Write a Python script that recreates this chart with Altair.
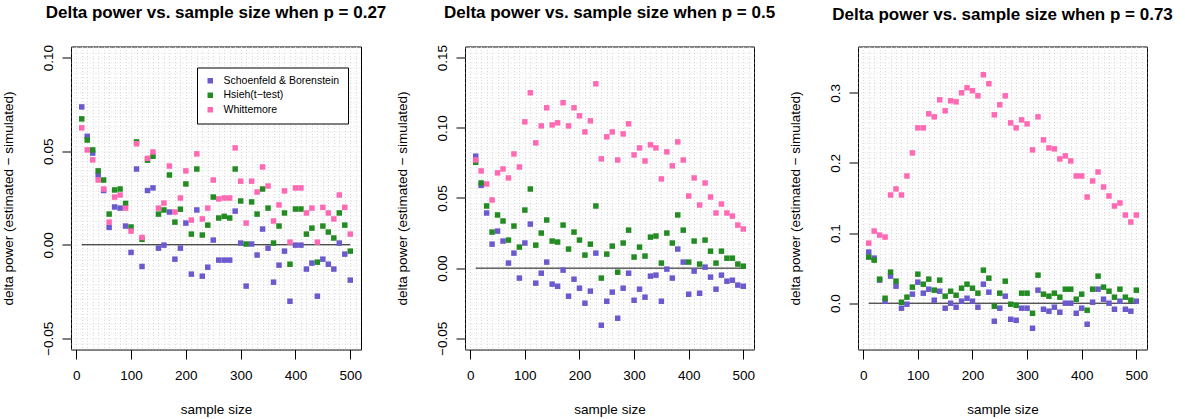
import altair as alt
import numpy as np
import pandas as pd

FONT = "Liberation Sans"

sample_size = list(range(10, 501, 10))
methods = ["Schoenfeld & Borenstein", "Hsieh(t−test)", "Whittemore"]
colors = ["#6A5ACD", "#228B22", "#FF69B4"]
p_labels = ["0.27", "0.5", "0.73"]

# ---- p = 0.27 ----
p027_schoenfeld = [0.0737, 0.058, 0.049, 0.0373, 0.029, 0.0093, 0.0202, 0.0196, 0.010, -0.0041,
                   0.0405, -0.0116, 0.029, 0.0304, -0.0018, -0.0002, 0.0175, -0.0077, -0.0018, 0.0116,
                   -0.0157, 0.0186, -0.0168, -0.012, 0.0025, -0.0082, -0.0082, -0.0082, 0.018, 0.0009,
                   -0.0221, 0.0004, -0.0055, 0.0084, -0.0018, -0.02, -0.0109, -0.0034, -0.0302, -0.0002,
                   -0.0002, -0.013, -0.0098, -0.0275, -0.0077, -0.0104, -0.013, 0.0009, -0.005, -0.0189]
p027_hsieh = [0.0673, 0.056, 0.0507, 0.0395, 0.0346, 0.0164, 0.0293, 0.0298, 0.0221, 0.0095,
              0.055, 0.0029, 0.0452, 0.0473, 0.0164, 0.0186, 0.0373, 0.0121, 0.019, 0.0325,
              0.0057, 0.0405, 0.0052, 0.0105, 0.0255, 0.0143, 0.0152, 0.0143, 0.0405, 0.0234,
              0.0004, 0.0229, 0.0164, 0.0298, 0.0196, 0.0009, 0.010, 0.017, -0.0104, 0.0191,
              0.0191, 0.0057, 0.0089, -0.0093, 0.010, 0.0068, 0.0036, 0.017, 0.0105, -0.0034]
p027_whittemore = [0.0625, 0.0507, 0.0454, 0.0346, 0.0298, 0.0121, 0.0255, 0.0266, 0.0196, 0.0073,
                   0.054, 0.0039, 0.0462, 0.0496, 0.0196, 0.0223, 0.0421, 0.0175, 0.025, 0.0395,
                   0.0132, 0.0486, 0.0138, 0.0196, 0.0346, 0.0245, 0.025, 0.025, 0.0518, 0.034,
                   0.0116, 0.034, 0.0282, 0.0416, 0.0314, 0.0127, 0.0213, 0.0288, 0.0014, 0.0304,
                   0.0304, 0.017, 0.0196, 0.0014, 0.020, 0.017, 0.0138, 0.0266, 0.020, 0.0057]

# ---- p = 0.5 ----
p05_schoenfeld = [0.0798, 0.059, 0.0393, 0.0171, 0.0264, 0.0193, 0.0036, 0.0107, -0.0071, 0.0179,
                  0.0314, -0.0107, -0.0036, 0.0043, -0.0114, -0.0129, -0.0014, -0.02, -0.0079, -0.0143,
                  -0.025, -0.0164, 0.0107, -0.0407, -0.0236, -0.0171, -0.0357, -0.0143, -0.0036, -0.0229,
                  -0.015, -0.0207, -0.0057, -0.005, -0.0236, -0.0007, -0.0071, 0.0136, 0.0043, -0.0186,
                  -0.0021, -0.0179, 0.0007, -0.0064, -0.015, -0.005, -0.0093, -0.0086, -0.0121, -0.0129]
p05_hsieh = [0.0755, 0.0607, 0.0443, 0.0257, 0.0379, 0.0336, 0.020, 0.030, 0.015, 0.0414,
             0.0564, 0.0164, 0.025, 0.0343, 0.0193, 0.0186, 0.0307, 0.0136, 0.0257, 0.020,
             0.0093, 0.0171, 0.0443, -0.0071, 0.010, 0.0157, -0.0029, 0.0179, 0.0271, 0.0079,
             0.015, 0.0086, 0.0221, 0.0229, 0.0036, 0.025, 0.0179, 0.0379, 0.0271, 0.0043,
             0.0193, 0.0029, 0.020, 0.0121, 0.0036, 0.0121, 0.0071, 0.0071, 0.0029, 0.0014]
p05_whittemore = [0.0771, 0.0693, 0.060, 0.0486, 0.0679, 0.0707, 0.0643, 0.0814, 0.0721, 0.1043,
                  0.125, 0.0893, 0.1014, 0.1143, 0.1021, 0.1036, 0.1179, 0.1014, 0.1143, 0.1086,
                  0.0971, 0.105, 0.1314, 0.0779, 0.0936, 0.0971, 0.0771, 0.0957, 0.1029, 0.0807,
                  0.0857, 0.0764, 0.0879, 0.0857, 0.0636, 0.0829, 0.0729, 0.090, 0.0771, 0.0514,
                  0.0643, 0.045, 0.0607, 0.0507, 0.0393, 0.0457, 0.0393, 0.0371, 0.0307, 0.0279]

# ---- p = 0.73 ----
p073_schoenfeld = [0.0729, 0.0643, 0.0329, 0.0029, 0.0386, 0.0243, -0.0071, -0.0014, 0.0129, 0.030,
                   0.0143, 0.020, 0.0043, 0.0171, -0.0071, 0.0, -0.0057, 0.0029, 0.0071, 0.0029,
                   -0.0057, 0.0271, 0.0157, -0.0257, -0.0071, 0.010, -0.0229, -0.0243, -0.0071, -0.0071,
                   -0.0357, 0.0186, -0.0086, -0.0114, -0.0057, -0.0129, 0.0, 0.0, -0.0143, -0.0071,
                   -0.030, 0.0014, 0.020, 0.0057, 0.0, -0.0086, 0.0029, -0.0086, -0.0114, 0.0029]
p073_hsieh = [0.0657, 0.0614, 0.0343, 0.0071, 0.0443, 0.0314, 0.0014, 0.0086, 0.0229, 0.0414,
              0.0271, 0.0343, 0.0186, 0.0329, 0.010, 0.0171, 0.0114, 0.0214, 0.0271, 0.0214,
              0.0143, 0.0471, 0.0357, -0.0043, 0.0143, 0.0314, -0.0014, -0.0029, 0.0143, 0.0143,
              -0.0143, 0.040, 0.0129, 0.010, 0.0143, 0.0086, 0.020, 0.020, 0.0057, 0.0129,
              -0.010, 0.020, 0.0386, 0.0229, 0.0171, 0.0086, 0.020, 0.0086, 0.0043, 0.0186]
p073_whittemore = [0.0857, 0.1029, 0.0971, 0.0943, 0.1543, 0.1629, 0.1543, 0.1814, 0.2143, 0.250,
                   0.250, 0.270, 0.2657, 0.290, 0.2743, 0.2886, 0.2871, 0.300, 0.3071, 0.3029,
                   0.2957, 0.3257, 0.3129, 0.2686, 0.2829, 0.2957, 0.2571, 0.250, 0.2614, 0.2557,
                   0.2186, 0.2657, 0.2329, 0.2214, 0.220, 0.2057, 0.210, 0.2029, 0.1814, 0.1814,
                   0.1514, 0.1743, 0.1871, 0.1657, 0.1529, 0.1386, 0.1429, 0.1257, 0.1157, 0.1257]

# axis set-up per panel: y limits (R style, extended by 4%), major ticks
y_limits = [(-0.05, 0.10), (-0.05, 0.15), (-0.05, 0.35)]
y_major_step = [0.05, 0.05, 0.1]
y_grid_div = [19, 14, 14]
y_format = [".2f", ".2f", ".1f"]
x_limits = (min(sample_size), max(sample_size))

PLOT_H = 303
widths = [290, 289, 289]
GRID_COLOR = "#dadada"


def ext(lo, hi):
    r = hi - lo
    return [lo - 0.04 * r, hi + 0.04 * r]


def panel(i, series, show_legend):
    rows = []
    for m, vals in zip(methods, series):
        for n, v in zip(sample_size, vals):
            rows.append({"n": n, "delta": v, "method": m})
    df = pd.DataFrame(rows)

    xdom = ext(*x_limits)
    ydom = ext(*y_limits[i])

    xgrid = list(range(0, 520, 10))
    step = y_major_step[i] / y_grid_div[i]
    k0 = int(np.ceil(ydom[0] / step))
    k1 = int(np.floor(ydom[1] / step))
    ygrid = [round(k * step, 8) for k in range(k0, k1 + 1)]

    ms = y_major_step[i]
    ytest = f"abs(datum.value / {ms} - round(datum.value / {ms})) < 1e-6"
    xtest = "datum.value % 100 === 0"

    x_axis = alt.Axis(
        values=xgrid, format="d",
        labelExpr=f"({xtest}) ? datum.label : ''",
        tickOpacity={"condition": {"test": xtest, "value": 1}, "value": 0},
        tickSize=9.5, tickColor="black", tickWidth=1,
        labelPadding=20.5, labelBaseline="alphabetic", labelAlign="center",
        labelFont=FONT, labelFontSize=13.5, labelColor="black",
        labelOverlap=False, labelFlush=False,
        domain=False,
        grid=True, gridColor=GRID_COLOR, gridDash=[1, 2], gridWidth=1,
        title="sample size", titleFont=FONT, titleFontSize=13.5, titleFontWeight="normal",
        titleColor="black", titleBaseline="alphabetic", titleAlign="center",
        titleX=widths[i] / 2, titleY=64,
    )
    y_axis = alt.Axis(
        values=ygrid, format=y_format[i],
        labelExpr=f"({ytest}) ? datum.label : ''",
        tickOpacity={"condition": {"test": ytest, "value": 1}, "value": 0},
        tickSize=9, tickColor="black", tickWidth=1,
        labelAngle=270, labelAlign="center", labelBaseline="alphabetic", labelPadding=9.5,
        labelFont=FONT, labelFontSize=13.5, labelColor="black",
        labelOverlap=False, labelFlush=False,
        domain=False,
        grid=True, gridColor=GRID_COLOR, gridDash=[1, 2], gridWidth=1,
        title="delta power (estimated − simulated)", titleFont=FONT, titleFontSize=13.5,
        titleFontWeight="normal", titleColor="black", titleAngle=270,
        titleAlign="center", titleBaseline="alphabetic",
        titleX=-58.7, titleY=PLOT_H / 2,
    )

    if show_legend:
        legend = alt.Legend(
            title=None, orient="none", legendX=126, legendY=21,
            strokeColor="black", fillColor="white", padding=8,
            symbolType="square", symbolSize=30, symbolStrokeWidth=0,
            labelFont=FONT, labelFontSize=10.5, labelColor="black",
            labelOffset=8, rowPadding=3.5, labelLimit=300,
        )
    else:
        legend = None

    zero = pd.DataFrame({"x": [x_limits[0]], "x2": [x_limits[1]], "y": [0.0]})
    zero_line = alt.Chart(zero).mark_rule(color="#111111", strokeWidth=1).encode(
        x=alt.X("x:Q", scale=alt.Scale(domain=xdom, nice=False, zero=False), axis=x_axis),
        x2="x2:Q",
        y=alt.Y("y:Q", scale=alt.Scale(domain=ydom, nice=False, zero=False), axis=y_axis),
    )

    pts = alt.Chart(df).mark_square(size=30, opacity=1).encode(
        x=alt.X("n:Q", scale=alt.Scale(domain=xdom, nice=False, zero=False), axis=x_axis),
        y=alt.Y("delta:Q", scale=alt.Scale(domain=ydom, nice=False, zero=False), axis=y_axis),
        color=alt.Color("method:N", scale=alt.Scale(domain=methods, range=colors),
                        sort=methods, legend=legend),
    )

    title = alt.TitleParams(
        text=f"Delta power vs. sample size when p = {p_labels[i]}",
        font=FONT, fontSize=17, fontWeight="bold", color="black",
        anchor="middle", frame="group", baseline="alphabetic", offset=10,
    )
    return alt.layer(zero_line, pts).properties(width=widths[i], height=PLOT_H, title=title)


c1 = panel(0, [p027_schoenfeld, p027_hsieh, p027_whittemore], True)
c2 = panel(1, [p05_schoenfeld, p05_hsieh, p05_whittemore], False)
c3 = panel(2, [p073_schoenfeld, p073_hsieh, p073_whittemore], False)

chart = alt.hconcat(c1, c2, c3, spacing=104, bounds="flush").resolve_scale(
    x="independent", y="independent", color="shared"
).resolve_legend(color="independent").properties(
    padding={"left": 0, "top": 2.5, "right": 0, "bottom": 0},
    background="white",
).configure_view(stroke="black", strokeWidth=1, fill="white")

chart.save("out.html", embed_options={"renderer": "svg", "actions": False})
